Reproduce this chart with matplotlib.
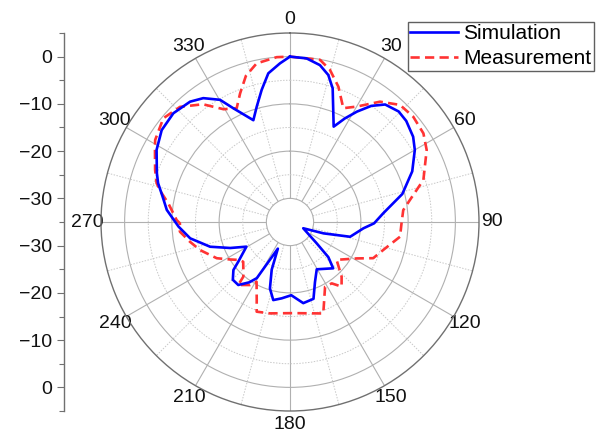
import numpy as np
import matplotlib.pyplot as plt

plt.rcParams['font.family'] = ['Liberation Sans', 'DejaVu Sans']

# simulated pattern, angle (deg, clockwise from top) and gain (dB)
sim_theta = [0, 5.8, 10.8, 14.6, 17.7, 24.6, 27.9, 31.2, 35, 39, 44.5, 49, 55.3, 60,
             67.5, 76, 84.7, 90.9, 94.9, 103.8, 108.7, 115.3, 128.6, 132.5, 137,
             150.5, 157.5, 163, 170.7, 179, 186.2, 192.1, 196.8, 201, 204.5, 210.6,
             214, 219.4, 224.7, 229.7, 232.5, 240.5, 246.5, 252.8, 260.7, 267.6,
             275.6, 281.3, 286.4, 290.1, 298.4, 305.6, 313, 320.3, 325, 330.2,
             333.5, 340.2, 343.9, 347.9, 351.7, 356.4, 360]
sim_db = [0, -0.2, -1.2, -2.85, -5.3, -12.8, -10.2, -7.7, -5.0, -3.0, -2.2, -2.4, -3.3, -4.5,
          -7.0, -10.5, -15.2, -17.2, -19.4, -21.9, -27.5, -31.9, -27.8, -24.0, -21.6,
          -23.5, -21.2, -18.0, -17.6, -19.5, -18.75, -18.1, -20.3, -24.2, -28.8, -21.2,
          -19.6, -17.75, -17.8, -19.3, -21.2, -24.4, -21.2, -17.3, -13.6, -11.4,
          -8.8, -7.5, -5.9, -5.0, -2.9, -1.6, -1.25, -1.9, -3.0, -5.2,
          -8.1, -12.1, -9.6, -6.4, -3.2, -1.35, 0]

# measured pattern
meas_theta = [0, 10.5, 14.7, 19.7, 25.1, 30, 36.8, 43.2, 49.5, 56.4, 62.2, 72.5, 79.6,
              84, 90.7, 97.6, 106.7, 113.5, 118.6, 129.1, 136.6, 141.4, 145.8, 151.6,
              160, 177.9, 192.4, 200.4, 203.1, 209.2, 212.4, 219.4, 220.5, 229.6,
              232.8, 238.1, 243.7, 252.7, 258.9, 265, 269.3, 271, 278.7, 282.6,
              286.2, 291.1, 298.1, 301.3, 309.3, 316.3, 323.5, 329.5, 334.9, 338.8,
              343.2, 348.1, 355.4, 360]
meas_db = [0, -0.1, -1.7, -4.6, -8.4, -6.8, -3.2, -1.0, -0.7, -1.1, -2.3, -5.4, -9.2,
           -10.9, -11.4, -11.5, -14.4, -15.8, -18.9, -22.3, -19.1, -17.5, -19.3, -19.4,
           -14.4, -15.7, -15.2, -14.75, -17.05, -20.5, -19.2, -17.75, -19.8, -22.0,
           -21.7, -20.0, -17.7, -15.05, -13.4, -11.6, -11.7, -11.0, -8.95, -7.2,
           -5.6, -4.4, -2.6, -1.6, -0.35, -1.3, -4.0, -7.3, -8.4, -5.8,
           -2.7, -0.7, 0, 0]

angle_ticks = list(range(0, 360, 30))
angle_minor = list(range(15, 360, 30))
ring_major = [-20, -10, 0]
ring_minor = [-25, -15, -5]
left_axis_db = [0, -10, -20, -30]

R_MIN, R_MAX, R_ORIGIN = -30, 5, -35
FS = 14

fig = plt.figure(figsize=(6, 4.33), dpi=100)
ax = fig.add_axes([101 / 600, 22 / 433, 378 / 600, 378 / 433], projection='polar')
ax.set_theta_zero_location('N')
ax.set_theta_direction(-1)
ax.set_rlim(R_MIN, R_MAX)
ax.set_rorigin(R_ORIGIN)

ax.set_xticks(np.deg2rad(angle_ticks))
ax.set_xticklabels([str(a) for a in angle_ticks], fontsize=FS, color='#111111')
ax.set_xticks(np.deg2rad(angle_minor), minor=True)
ax.set_yticks(ring_major)
ax.set_yticks(ring_minor, minor=True)
ax.set_yticklabels([])
ax.tick_params(axis='y', which='both', length=0, labelleft=False)
ax.tick_params(axis='x', which='major', direction='in', length=6, width=0.8,
               color='#707070', pad=2.5)
ax.tick_params(axis='x', which='minor', direction='in', length=4, width=0.8,
               color='#707070')
ax.grid(True, which='major', color='#b0b0b0', lw=0.8, ls='-')
ax.grid(True, which='minor', color='#c8c8c8', lw=0.7, ls=(0, (1.5, 1.5)))
ax.spines['polar'].set_color('#707070')
ax.spines['polar'].set_linewidth(1.0)
ax.spines['inner'].set_color('#b0b0b0')
ax.spines['inner'].set_linewidth(0.8)

ax.plot(np.deg2rad(sim_theta), sim_db, color='#0000ff', lw=1.9,
        clip_on=False, zorder=5, label='Simulation')
ax.plot(np.deg2rad(meas_theta), meas_db, color='#ff3333', lw=1.9, ls=(0, (3.5, 2)),
        clip_on=False, zorder=4, label='Measurement')

# mirrored radial scale on the left
lax = fig.add_axes([64 / 600, 22 / 433, 0.001, 378 / 433])
span = R_MAX - R_ORIGIN
lax.set_ylim(-span, span)
upper = [d - R_ORIGIN for d in left_axis_db]
pos = upper + [-u for u in upper[::-1]]
labels = [str(d).replace('-', '\u2212') for d in left_axis_db]
labels = labels + labels[::-1]
lax.set_yticks(pos)
lax.set_yticklabels(labels, fontsize=FS, color='#111111')
lax.set_yticks(np.arange(-span, span + 1, 10), minor=True)
lax.set_xticks([])
for side in ['top', 'right', 'bottom']:
    lax.spines[side].set_visible(False)
lax.spines['left'].set_color('#707070')
lax.spines['left'].set_linewidth(1.0)
lax.patch.set_visible(False)
lax.tick_params(axis='y', which='major', direction='out', length=5, width=0.8,
                color='#707070', pad=3.5)
lax.tick_params(axis='y', which='minor', direction='out', length=3.5, width=0.8,
                color='#707070')

leg = fig.legend(loc='upper right', bbox_to_anchor=(594 / 600, 1 - 21.7 / 433),
                 fontsize=15, frameon=True, fancybox=False, edgecolor='#606060',
                 framealpha=1, handlelength=2.3, handletextpad=0.25, borderpad=0.12,
                 labelspacing=0.3, borderaxespad=0)
leg.get_frame().set_linewidth(1.0)

fig.savefig('out.png', dpi=100)
